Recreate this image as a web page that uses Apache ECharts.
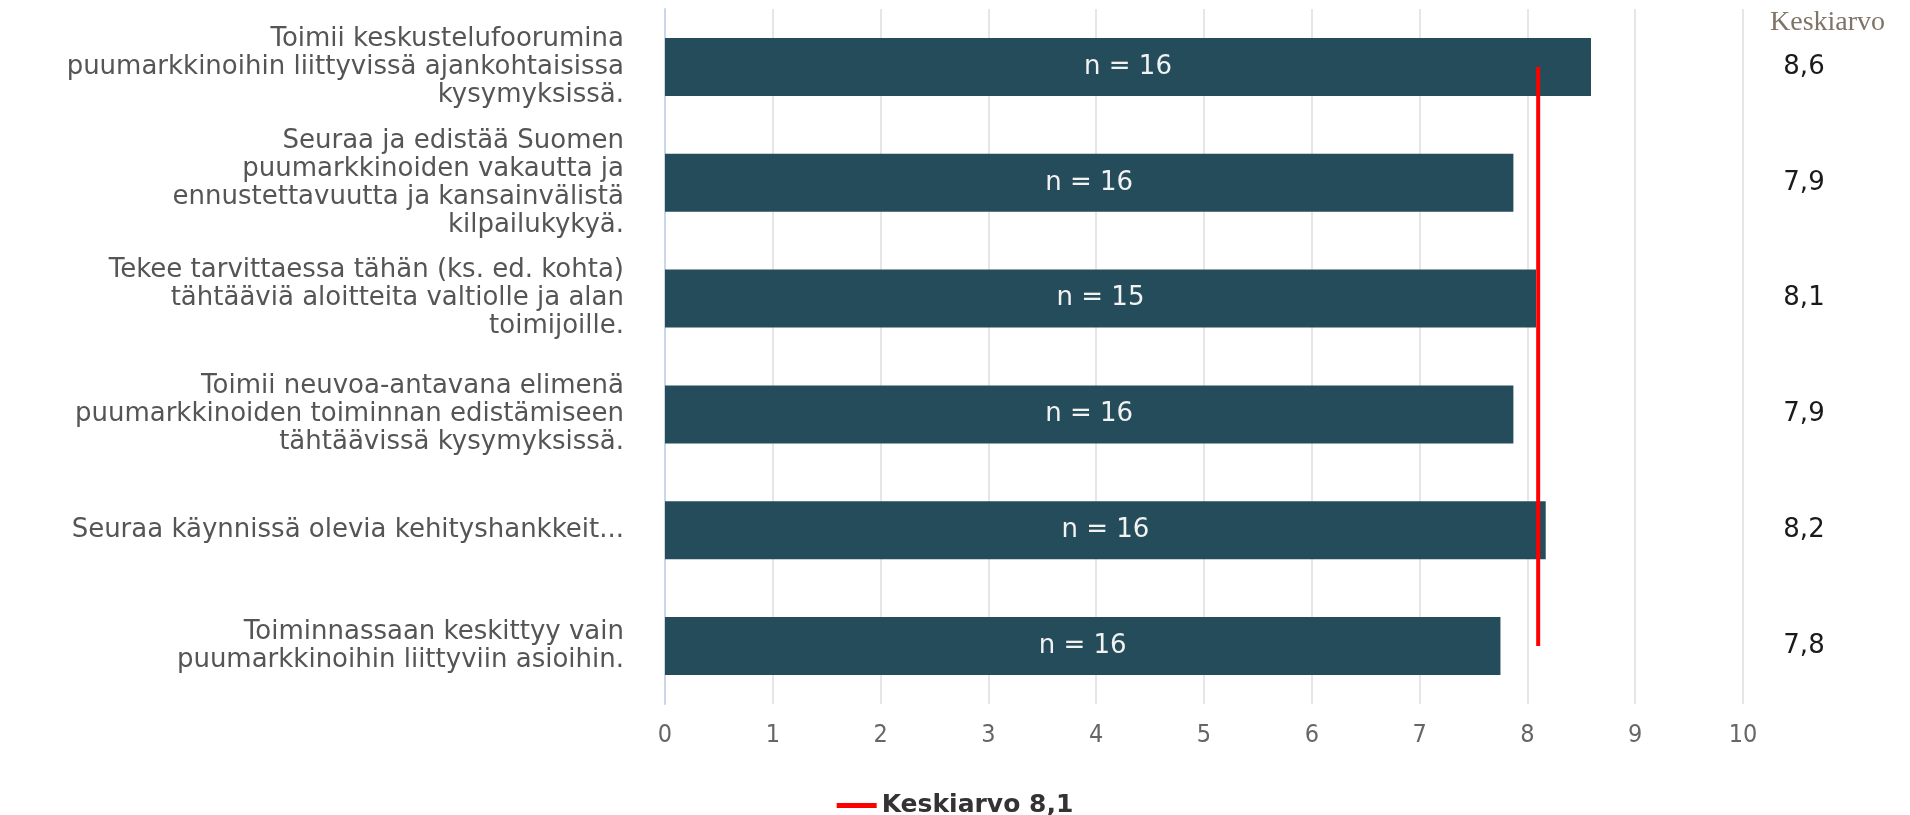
<!DOCTYPE html>
<html>
<head>
<meta charset="utf-8">
<script src="https://cdn.jsdelivr.net/npm/echarts@6/dist/echarts.min.js"></script>
<style>
html,body{margin:0;padding:0;background:#fff;}
#chart{width:1910px;height:815px;}
</style>
</head>
<body>
<div id="chart"></div>
<script>
const categories = [
  "Toimii keskustelufoorumina\npuumarkkinoihin liittyvissä ajankohtaisissa\nkysymyksissä.",
  "Seuraa ja edistää Suomen\npuumarkkinoiden vakautta ja\nennustettavuutta ja kansainvälistä\nkilpailukykyä.",
  "Tekee tarvittaessa tähän (ks. ed. kohta)\ntähtääviä aloitteita valtiolle ja alan\ntoimijoille.",
  "Toimii neuvoa-antavana elimenä\npuumarkkinoiden toiminnan edistämiseen\ntähtäävissä kysymyksissä.",
  "Seuraa käynnissä olevia kehityshankkeit...",
  "Toiminnassaan keskittyy vain\npuumarkkinoihin liittyviin asioihin."
];
const barValues = [8.59, 7.87, 8.08, 7.87, 8.17, 7.75];
const nCounts = [16, 16, 15, 16, 16, 16];
const meanLabels = ["8,6", "7,9", "8,1", "7,9", "8,2", "7,8"];
const overallMean = 8.1;
const overallMeanName = "Keskiarvo 8,1";
const xTicks = [0, 1, 2, 3, 4, 5, 6, 7, 8, 9, 10];

const chart = echarts.init(document.getElementById('chart'));
chart.setOption({
  animation: false,
  title: {
    text: 'Keskiarvo',
    left: 1770, top: 9, padding: 0,
    textStyle: {fontFamily: 'Liberation Serif', fontSize: 28, fontWeight: 'normal', color: '#7f7468'}
  },
  legend: {
    top: 788, left: 'center',
    itemWidth: 40, itemHeight: 5, itemGap: 14,
    data: [{name: overallMeanName, icon: 'rect', itemStyle: {color: '#ff0000'}}],
    textStyle: {fontFamily: 'DejaVu Sans', fontSize: 25, fontWeight: 'bold', color: '#333'}
  },
  grid: {left: 665, right: 167, top: 9, bottom: 111},
  xAxis: {
    type: 'value', min: xTicks[0], max: xTicks[xTicks.length - 1], interval: 1,
    axisLine: {show: false}, axisTick: {show: false},
    splitLine: {show: true, lineStyle: {color: '#e6e6e6', width: 2}},
    axisLabel: {margin: 19, fontFamily: "'DejaVu Sans Condensed', 'Liberation Sans', sans-serif", fontSize: 25, color: '#666'}
  },
  yAxis: [
    {
      type: 'category', data: categories, inverse: true,
      axisLine: {show: true, lineStyle: {color: '#ccd6eb', width: 2}},
      axisTick: {show: false},
      axisLabel: {margin: 41, fontFamily: 'DejaVu Sans', fontSize: 26, lineHeight: 28, color: '#555', align: 'right'}
    },
    {
      type: 'category', data: meanLabels, inverse: true, position: 'right',
      axisLine: {show: false}, axisTick: {show: false},
      axisLabel: {margin: 61, align: 'center', fontFamily: 'DejaVu Sans', fontSize: 26, color: '#1a1a1a'}
    }
  ],
  series: [
    {
      type: 'bar', yAxisIndex: 0,
      data: barValues, barWidth: 58,
      itemStyle: {color: '#244c5a'},
      label: {
        show: true, position: 'inside',
        formatter: p => 'n = ' + nCounts[p.dataIndex],
        fontFamily: 'DejaVu Sans', fontSize: 26, color: '#f2f2f2'
      }
    },
    {
      type: 'line', name: overallMeanName, yAxisIndex: 0,
      data: categories.map(() => overallMean),
      symbol: 'none',
      lineStyle: {color: '#ff0000', width: 4},
      itemStyle: {color: '#ff0000'},
      z: 5
    }
  ]
});
</script>
</body>
</html>
